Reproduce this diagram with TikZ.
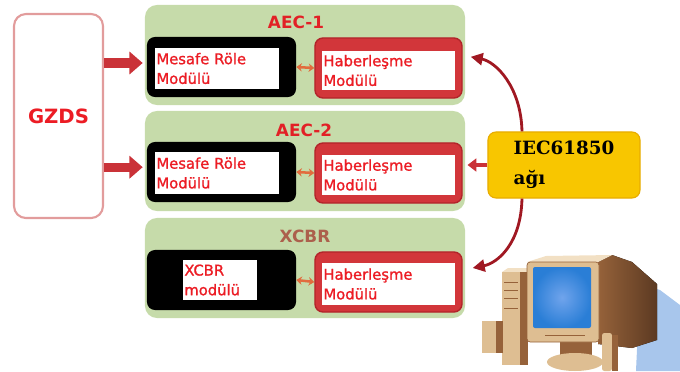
\documentclass[tikz,border=0pt]{standalone}
\usepackage{fontspec}
\setmainfont{DejaVu Sans}
\newfontfamily\netfont{DejaVu Serif}
\newfontfamily\modfont[FakeBold=1.2]{DejaVu Sans}
\usetikzlibrary{arrows.meta}

\definecolor{panelgreen}{RGB}{198,219,170}
\definecolor{textred}{RGB}{236,28,36}
\definecolor{titlered}{RGB}{226,32,38}
\definecolor{xcbrbrown}{RGB}{172,96,76}
\definecolor{gzdspink}{RGB}{226,156,156}
\definecolor{haberred}{RGB}{210,54,58}
\definecolor{haberdark}{RGB}{178,36,42}
\definecolor{linkorange}{RGB}{226,108,62}
\definecolor{feedred}{RGB}{202,50,56}
\definecolor{netred}{RGB}{160,24,34}
\definecolor{netyellow}{RGB}{248,198,0}
\definecolor{netedge}{RGB}{232,172,0}
\definecolor{pctan}{RGB}{222,190,146}
\definecolor{pclight}{RGB}{242,224,196}
\definecolor{pcbrown}{RGB}{150,98,58}
\definecolor{pcdark}{RGB}{92,58,34}
\definecolor{pcscreen}{RGB}{42,126,214}
\definecolor{pcglow}{RGB}{112,164,236}
\definecolor{pcshadow}{RGB}{168,198,236}

\tikzset{
  panel/.style={fill=panelgreen, rounded corners=0.3cm, minimum width=8cm, minimum height=2.5cm},
  title/.style={font=\bfseries\fontsize{12}{14}\selectfont, text=titlered},
  relay/.style={fill=black, rounded corners=0.2cm, minimum width=3.725cm, minimum height=1.5cm},
  comms/.style={fill=haberred, draw=haberdark, line width=1pt, rounded corners=0.2cm, minimum width=3.675cm, minimum height=1.5cm},
  txtbox/.style={fill=white, inner xsep=1pt, inner ysep=0pt, align=left, text=textred, font=\modfont\fontsize{10.5}{14}\selectfont},
  link/.style={{Stealth[length=4pt,width=6pt]}-{Stealth[length=4pt,width=6pt]}, line width=1.8pt, draw=linkorange},
  feed/.style={-{Triangle[length=0.33cm,width=0.55cm]}, line width=0.23cm, draw=feedred, shorten >=0.1cm},
  net/.style={-{Triangle[length=0.3cm,width=0.3cm]}, line width=2pt, draw=netred}
}

\begin{document}
\begin{tikzpicture}[x=0.025cm, y=-0.025cm]
  \useasboundingbox (0,0) rectangle (680,371);

  % GZDS block
  \node[draw=gzdspink, line width=1.5pt, fill=white, rounded corners=0.3cm,
        minimum width=2.225cm, minimum height=5.1cm,
        font=\bfseries\fontsize{14}{16}\selectfont, text=textred] (gzds) at (58.5,116) {GZDS};

  % the three bays
  \node[panel] (pan1) at (305,55) {};
  \node[panel] (pan2) at (305,161) {};
  \node[panel] (pan3) at (305,268) {};
  \node[title] (t1) at (296,22) {AEC-1};
  \node[title] (t2) at (304,130) {AEC-2};
  \node[title, text=xcbrbrown] (t3) at (305,236) {XCBR};

  \node[relay] (blk1) at (221.5,67) {};
  \node[relay] (blk2) at (221.5,172) {};
  \node[relay] (blk3) at (221.5,280) {};
  \node[comms] (hab1) at (388.5,68) {};
  \node[comms] (hab2) at (388.5,173) {};
  \node[comms] (hab3) at (388.5,282) {};

  \node[txtbox, text width=3.025cm, minimum height=1.025cm] (mtxt1) at (217,68.5) {Mesafe Röle\\Modülü};
  \node[txtbox, text width=3.025cm, minimum height=1.05cm] (mtxt2) at (217,173) {Mesafe Röle\\Modülü};
  \node[txtbox, text width=1.78cm, minimum height=1cm] (mtxt3) at (220,280) {XCBR\\modülü};
  \node[txtbox, text width=3.25cm, minimum height=0.975cm] (htxt1) at (388.5,70.5) {Haberleşme\\Modülü};
  \node[txtbox, text width=3.25cm, minimum height=1cm] (htxt2) at (388.5,175) {Haberleşme\\Modülü};
  \node[txtbox, text width=3.25cm, minimum height=1.05cm] (htxt3) at (388.5,284) {Haberleşme\\Modülü};

  \draw[link] (blk1.east) -- (hab1.west);
  \draw[link] (blk2.east) -- (hab2.west);
  \draw[link] (blk3.east) -- (hab3.west);

  % feeds from GZDS
  \draw[feed] ([yshift=0.1cm]gzds.east |- blk1.west) -- ([yshift=0.1cm]blk1.west);
  \draw[feed] ([yshift=0.12cm]gzds.east |- blk2.west) -- ([yshift=0.12cm]blk2.west);

  % station network
  \node[fill=netyellow, draw=netedge, line width=0.8pt, rounded corners=0.2cm,
        minimum width=3.8cm, minimum height=1.65cm, align=left,
        font=\netfont\bfseries\fontsize{13}{21}\selectfont] (iec) at (564,165) {IEC61850\\ağı};
  \draw[net] ([xshift=-1.05cm]iec.north) .. controls +(-1,-45) and +(25,5) .. ([xshift=0.2cm, yshift=0.28cm]hab1.east);
  \draw[net] ([xshift=-1.05cm]iec.south) .. controls +(-1,45) and +(25,-5) .. ([xshift=0.25cm, yshift=0.35cm]hab3.east);
  \draw[-{Triangle[length=0.22cm,width=0.32cm]}, line width=3.5pt, draw=feedred, shorten >=0.12cm] (iec.west) -- (iec.west -| hab2.east);

  % workstation
  \fill[pcshadow] (640,284) -- (660,290) -- (680,305) -- (680,371) -- (636,371) -- cycle;
  \fill[left color=pcbrown, right color=pcdark] (598,262) -- (612,255) -- (632,262) -- (657,284) -- (657,340) -- (632,348) -- (598,344) -- cycle;
  \fill[pclight] (527,262) -- (546,256) -- (612,255) -- (598,262) -- cycle;
  % tower
  \fill[pclight] (502,272) -- (508,268) -- (530,268) -- (528,272) -- cycle;
  \fill[pctan] (502,272) rectangle (520,365);
  \fill[pcbrown] (520,272) rectangle (528,365);
  \foreach \yy in {282,290,298,308}
    \draw[pcbrown, line width=0.6pt] (504,\yy) -- (518,\yy);
  % left speaker
  \fill[pctan] (482,321) rectangle (496,353);
  \fill[pcbrown] (496,321) rectangle (503,353);
  % stand
  \fill[pcbrown] (560,340) rectangle (592,356);
  \fill[pctan] (575,362) ellipse (28 and 9);
  % monitor front and screen
  \fill[pctan, draw=pcbrown, line width=0.5pt, rounded corners=0.08cm] (527,262) rectangle (599,342);
  \shade[inner color=pcglow, outer color=pcscreen, rounded corners=0.05cm] (533,267) rectangle (591,328);
  \draw[pcbrown, line width=0.5pt] (545,335) -- (585,335);
  % right speaker
  \fill[pctan, rounded corners=0.06cm] (602,333) rectangle (612,371);
  \fill[pcbrown] (612,335) rectangle (618,371);
\end{tikzpicture}
\end{document}
